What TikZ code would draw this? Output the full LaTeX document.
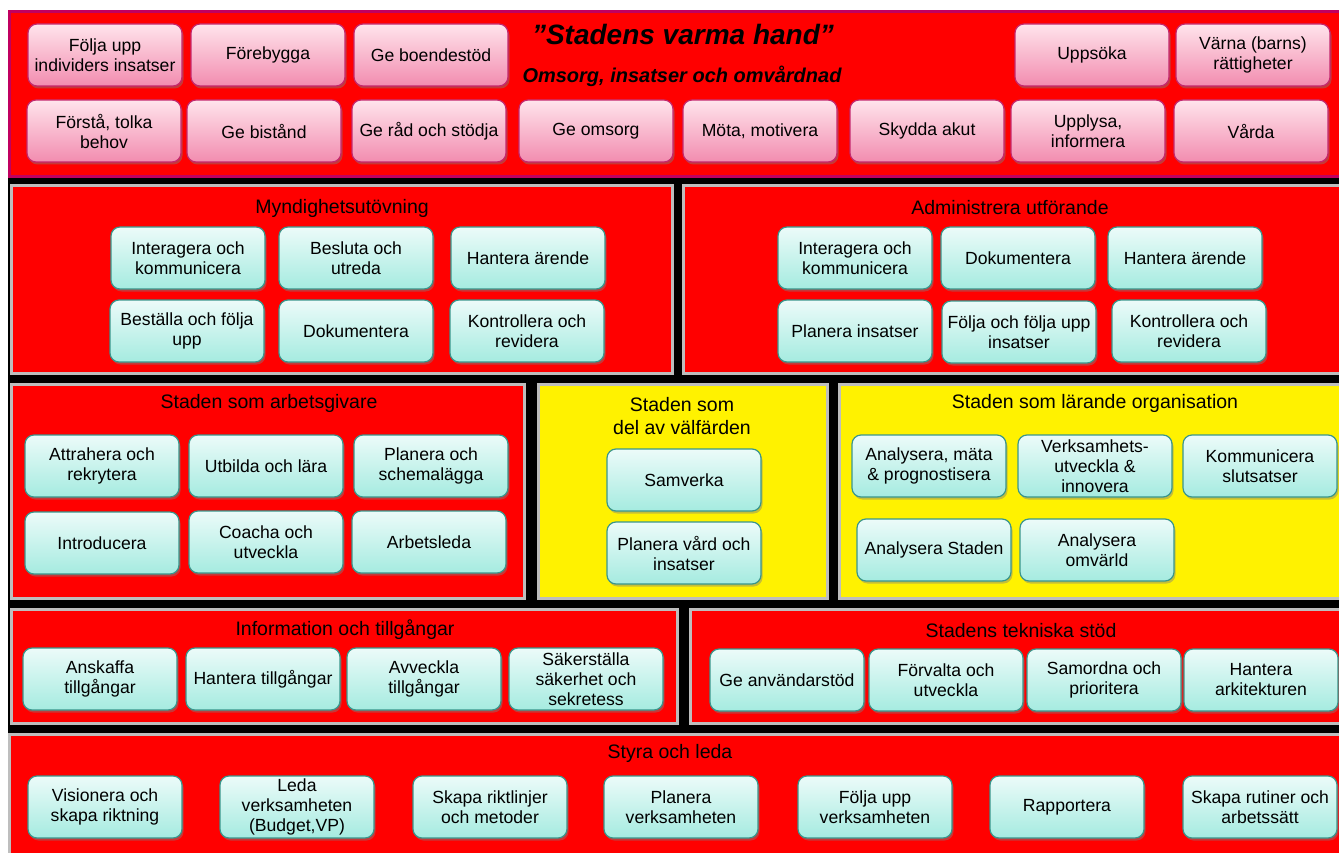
\documentclass[tikz,border=0pt]{standalone}
\usepackage{fontspec}
\setmainfont{Liberation Sans}
\usetikzlibrary{shadows}
\definecolor{stadmagenta}{RGB}{192,0,96}
\definecolor{panelgray}{RGB}{190,190,190}
\definecolor{rosaram}{RGB}{196,40,110}
\definecolor{rosatopp}{RGB}{255,228,236}
\definecolor{rosabotten}{RGB}{242,140,175}
\definecolor{turkosram}{RGB}{58,150,140}
\definecolor{turkostopp}{RGB}{236,251,249}
\definecolor{turkosbotten}{RGB}{165,235,224}
\tikzset{
  karta/.style={x=1pt,y=-1pt,
    every node/.style={align=center,font=\fontsize{17.6}{20}\selectfont}},
  toppanel/.style={draw=stadmagenta,line width=3pt,fill=red},
  panel/.style={draw=panelgray,line width=3pt,fill=red},
  gulpanel/.style={panel,fill=yellow},
  ptitle/.style={font=\fontsize{19.5}{23}\selectfont},
  akt/.style={rounded corners=9pt,minimum width=154pt,minimum height=62pt,
    inner sep=2pt,line width=1.2pt,
    drop shadow={shadow xshift=1.5pt,shadow yshift=-2.5pt,opacity=0.45}},
  pinkbox/.style={akt,draw=rosaram,top color=rosatopp,bottom color=rosabotten},
  tealbox/.style={akt,draw=turkosram,top color=turkostopp,bottom color=turkosbotten}}

\begin{document}
\begin{tikzpicture}[karta]
  \useasboundingbox (0,0) rectangle (1339,853);
  \clip (0,0) rectangle (1339,853);
  \fill[white] (0,0) rectangle (1339,853);
  \fill[black] (8,10) rectangle (1345,860);

  % omsorg
  \draw[toppanel] (9.5,11.5) rectangle (1345,176.5);
  \node (rubrik) at (683,35) {\fontsize{28}{32}\selectfont\bfseries\itshape ”Stadens varma hand”};
  \node (underrubrik) at (682,76) {\fontsize{20}{24}\selectfont\bfseries\itshape Omsorg, insatser och omvårdnad};
  \node[pinkbox] (foljaupp) at (105,55) {Följa upp\\individers insatser};
  \node[pinkbox] (forebygga) at (268,55) {Förebygga};
  \node[pinkbox] (boendestod) at (431,55) {Ge boendestöd};
  \node[pinkbox] (uppsoka) at (1092,55) {Uppsöka};
  \node[pinkbox] (varna) at (1253,55) {Värna (barns)\\rättigheter};
  \node[pinkbox] (forsta) at (104,131) {Förstå, tolka\\behov};
  \node[pinkbox] (bistand) at (264,131) {Ge bistånd};
  \node[pinkbox] (radstod) at (429,131) {Ge råd och stödja};
  \node[pinkbox] (omsorg) at (596,131) {Ge omsorg};
  \node[pinkbox] (mota) at (760,131) {Möta, motivera};
  \node[pinkbox] (skydda) at (927,131) {Skydda akut};
  \node[pinkbox] (upplysa) at (1088,131) {Upplysa,\\informera};
  \node[pinkbox] (varda) at (1251,131) {Vårda};

  % myndighet och administration
  \draw[panel] (11.5,185.5) rectangle (672.5,373.5);
  \node[ptitle] (myndighet) at (342,208) {Myndighetsutövning};
  \node[tealbox] (mInteragera) at (188,258) {Interagera och\\kommunicera};
  \node[tealbox] (mBesluta) at (356,258) {Besluta och\\utreda};
  \node[tealbox] (mHantera) at (528,258) {Hantera ärende};
  \node[tealbox] (mBestalla) at (187,331) {Beställa och följa\\upp};
  \node[tealbox] (mDokumentera) at (356,331) {Dokumentera};
  \node[tealbox] (mKontrollera) at (527,331) {Kontrollera och\\revidera};

  \draw[panel] (683.5,185.5) rectangle (1345,373.5);
  \node[ptitle] (administrera) at (1010,208) {Administrera utförande};
  \node[tealbox] (aInteragera) at (855,258) {Interagera och\\kommunicera};
  \node[tealbox] (aDokumentera) at (1018,258) {Dokumentera};
  \node[tealbox] (aHantera) at (1185,258) {Hantera ärende};
  \node[tealbox] (aPlanera) at (855,331) {Planera insatser};
  \node[tealbox] (aFolja) at (1019,332) {Följa och följa upp\\insatser};
  \node[tealbox] (aKontrollera) at (1189,331) {Kontrollera och\\revidera};

  % arbetsgivare, valfard, larande
  \draw[panel] (11.5,384.5) rectangle (524,598.5);
  \node[ptitle] (arbetsgivare) at (269,403) {Staden som arbetsgivare};
  \node[tealbox] (attrahera) at (102,466) {Attrahera och\\rekrytera};
  \node[tealbox] (utbilda) at (266,466) {Utbilda och lära};
  \node[tealbox] (schema) at (431,466) {Planera och\\schemalägga};
  \node[tealbox] (introducera) at (102,543) {Introducera};
  \node[tealbox] (coacha) at (266,542) {Coacha och\\utveckla};
  \node[tealbox] (arbetsleda) at (429,542) {Arbetsleda};

  \draw[gulpanel] (538.5,384.5) rectangle (827,598.5);
  \node[ptitle] (valfarden) at (682,416) {Staden som\\del av välfärden};
  \node[tealbox] (samverka) at (684,480) {Samverka};
  \node[tealbox] (vardplan) at (684,553) {Planera vård och\\insatser};

  \draw[gulpanel] (839.5,384.5) rectangle (1345,598.5);
  \node[ptitle] (larande) at (1095,403) {Staden som lärande organisation};
  \node[tealbox] (mata) at (929,466) {Analysera, mäta\\\& prognostisera};
  \node[tealbox] (innovera) at (1095,466) {Verksamhets-\\utveckla \&\\innovera};
  \node[tealbox] (slutsatser) at (1260,466) {Kommunicera\\slutsatser};
  \node[tealbox] (analysStaden) at (934,550) {Analysera Staden};
  \node[tealbox] (omvarld) at (1097,550) {Analysera\\omvärld};

  % information och teknik
  \draw[panel] (11.5,609.5) rectangle (677,723.5);
  \node[ptitle] (information) at (345,630) {Information och tillgångar};
  \node[tealbox] (anskaffa) at (100,679) {Anskaffa\\tillgångar};
  \node[tealbox] (tillgangar) at (263,679) {Hantera tillgångar};
  \node[tealbox] (avveckla) at (424,679) {Avveckla\\tillgångar};
  \node[tealbox] (sakerstalla) at (586,679) {Säkerställa\\säkerhet och\\sekretess};

  \draw[panel] (690.5,609.5) rectangle (1345,723.5);
  \node[ptitle] (tekniska) at (1021,631) {Stadens tekniska stöd};
  \node[tealbox] (anvandarstod) at (787,680) {Ge användarstöd};
  \node[tealbox] (forvalta) at (946,680) {Förvalta och\\utveckla};
  \node[tealbox] (samordna) at (1104,680) {Samordna och\\prioritera};
  \node[tealbox] (arkitektur) at (1261,680) {Hantera\\arkitekturen};

  % styra och leda
  \draw[panel] (9.5,734.5) rectangle (1345,860);
  \node[ptitle] (styra) at (670,753) {Styra och leda};
  \node[tealbox] (visionera) at (105,807) {Visionera och\\skapa riktning};
  \node[tealbox] (leda) at (297,807) {Leda\\verksamheten\\(Budget,VP)};
  \node[tealbox] (riktlinjer) at (490,807) {Skapa riktlinjer\\och metoder};
  \node[tealbox] (planera) at (681,807) {Planera\\verksamheten};
  \node[tealbox] (foljaVerks) at (875,807) {Följa upp\\verksamheten};
  \node[tealbox] (rapportera) at (1067,807) {Rapportera};
  \node[tealbox] (rutiner) at (1260,807) {Skapa rutiner och\\arbetssätt};
\end{tikzpicture}
\end{document}
